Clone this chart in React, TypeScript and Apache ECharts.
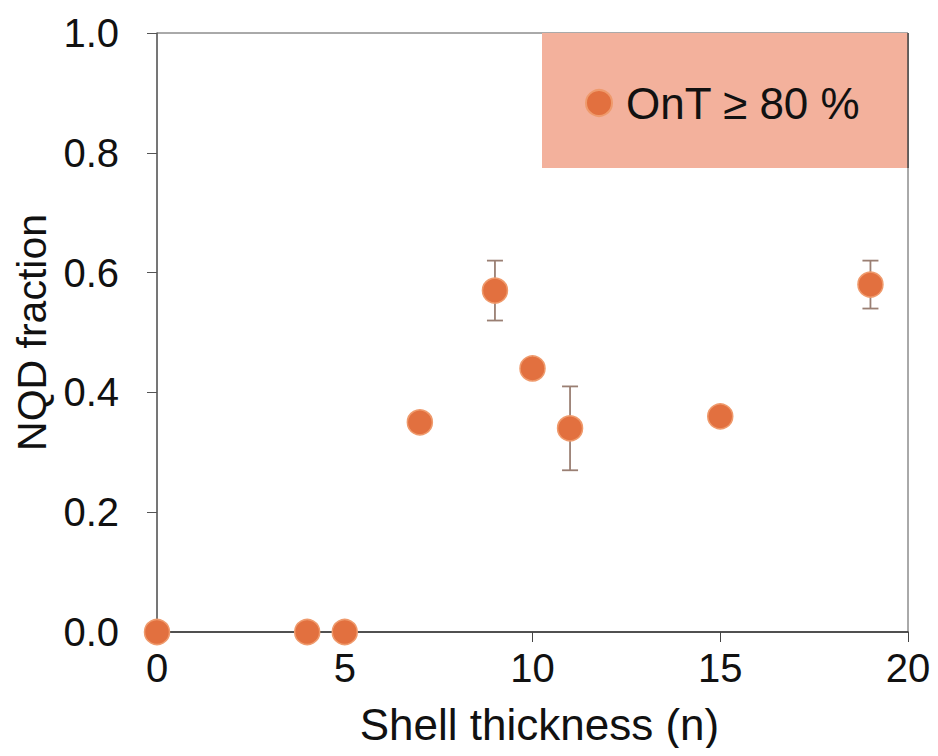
import React, { useEffect, useRef } from "react";
import * as echarts from "echarts";

const shellX = [0, 4, 5, 7, 9, 10, 11, 15, 19];
const nqdY = [0, 0, 0, 0.35, 0.57, 0.44, 0.34, 0.36, 0.58];
const errX = [9, 11, 19];
const errLow = [0.52, 0.27, 0.54];
const errHigh = [0.62, 0.41, 0.62];
const seriesName = "OnT \u2265 80 %";

const FONT = "'Liberation Sans', Arial, Helvetica, sans-serif";

export default function App() {
  const ref = useRef<HTMLDivElement>(null);
  useEffect(() => {
    if (!ref.current) return;
    const chart = echarts.init(ref.current, undefined, { renderer: "svg" });
    const points = shellX.map((x, i) => [x, nqdY[i]]);
    const errData = errX.map((x, i) => [x, errLow[i], errHigh[i]]);
    chart.setOption({
      animation: false,
      backgroundColor: "#ffffff",
      grid: {
        left: 149,
        right: 22,
        top: 25,
        bottom: 116,
        show: true,
        borderColor: "#555",
        borderWidth: 1,
        outerBoundsMode: "none",
        containLabel: false,
      },
      graphic: [
        {
          type: "rect",
          shape: { x: 534, y: 25, width: 366, height: 135 },
          style: { fill: "#f3b19c", lineWidth: 0 },
          z: 1,
        },
        {
          type: "line",
          shape: { x1: 900, y1: 25, x2: 900, y2: 160 },
          style: { stroke: "#444", lineWidth: 1.5 },
          z: 2,
        },
      ],
      legend: {
        data: [seriesName],
        left: 572,
        top: 68,
        icon: "circle",
        itemWidth: 26,
        itemHeight: 26,
        itemGap: 0,
        textStyle: { fontFamily: FONT, fontSize: 44, color: "#111", padding: [0, 0, 0, 9] },
        z: 5,
      },
      xAxis: {
        type: "value",
        min: 0,
        max: 20,
        interval: 5,
        name: "Shell thickness (n)",
        nameLocation: "middle",
        nameGap: 70,
        nameTextStyle: { fontFamily: FONT, fontSize: 44, color: "#111", padding: [0, 0, 0, 14] },
        axisLine: { show: true, lineStyle: { color: "#333", width: 1.5 } },
        axisTick: { show: true, inside: false, length: 10, lineStyle: { color: "#444" } },
        axisLabel: { fontFamily: FONT, fontSize: 40, color: "#111", margin: 16 },
        splitLine: { show: false },
      },
      yAxis: {
        type: "value",
        min: 0,
        max: 1,
        interval: 0.2,
        name: "NQD fraction",
        nameLocation: "middle",
        nameGap: 104,
        nameTextStyle: { fontFamily: FONT, fontSize: 41, lineHeight: 40, color: "#111" },
        axisLine: { show: true, lineStyle: { color: "#666", width: 1.5 } },
        axisTick: { show: true, inside: false, length: 10, lineStyle: { color: "#555" } },
        axisLabel: {
          fontFamily: FONT,
          fontSize: 40,
          color: "#111",
          margin: 38,
          formatter: (v: number) => v.toFixed(1),
        },
        splitLine: { show: false },
      },
      series: [
        {
          type: "custom",
          name: "err",
          data: errData,
          z: 3,
          renderItem: (params: any, api: any) => {
            const x = api.value(0);
            const lo = api.coord([x, api.value(1)]);
            const hi = api.coord([x, api.value(2)]);
            const cap = 8;
            const style = { stroke: "#9a7f73", lineWidth: 1.8 };
            return {
              type: "group",
              children: [
                { type: "line", shape: { x1: lo[0], y1: lo[1], x2: hi[0], y2: hi[1] }, style },
                { type: "line", shape: { x1: lo[0] - cap, y1: lo[1], x2: lo[0] + cap, y2: lo[1] }, style },
                { type: "line", shape: { x1: hi[0] - cap, y1: hi[1], x2: hi[0] + cap, y2: hi[1] }, style },
              ],
            };
          },
        },
        {
          type: "scatter",
          name: seriesName,
          data: points,
          symbol: "circle",
          symbolSize: 25,
          z: 4,
          clip: false,
          itemStyle: { color: "#e2703f", borderColor: "#ef9a6c", borderWidth: 1.5, opacity: 1 },
        },
      ],
    });
    return () => chart.dispose();
  }, []);
  return <div ref={ref} style={{ width: 922, height: 740 }} />;
}
